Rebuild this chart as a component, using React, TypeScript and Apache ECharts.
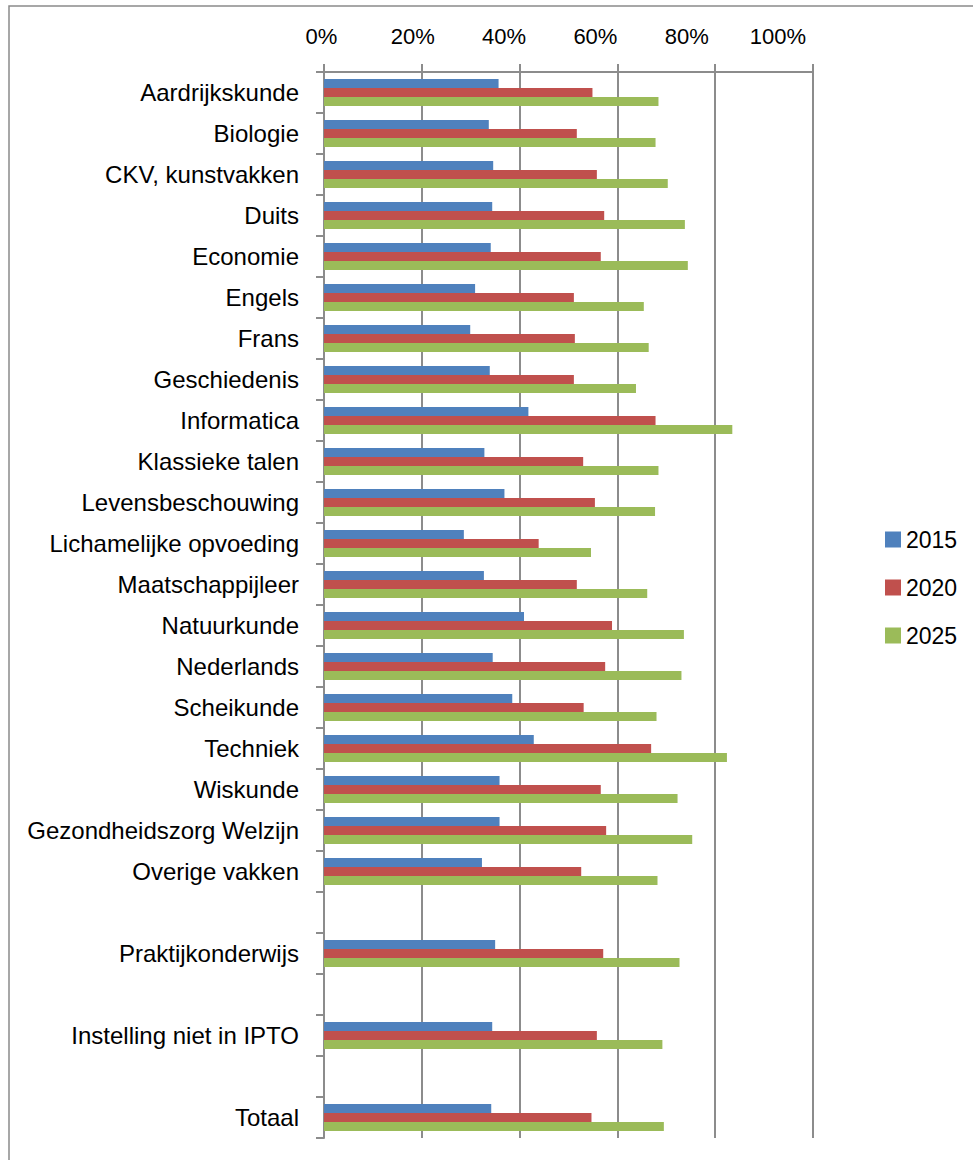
import React, { useEffect, useRef } from "react";
import * as echarts from "echarts";

const categories = [
  "Aardrijkskunde",
  "Biologie",
  "CKV, kunstvakken",
  "Duits",
  "Economie",
  "Engels",
  "Frans",
  "Geschiedenis",
  "Informatica",
  "Klassieke talen",
  "Levensbeschouwing",
  "Lichamelijke opvoeding",
  "Maatschappijleer",
  "Natuurkunde",
  "Nederlands",
  "Scheikunde",
  "Techniek",
  "Wiskunde",
  "Gezondheidszorg Welzijn",
  "Overige vakken",
  " ",
  "Praktijkonderwijs",
  "  ",
  "Instelling niet in IPTO",
  "   ",
  "Totaal",
];

const seriesNames = ["2015", "2020", "2025"];

const values2015 = [35.7, 33.7, 34.6, 34.4, 34.1, 30.9, 29.9, 33.9, 41.8, 32.8, 36.9, 28.6, 32.7, 40.9, 34.5, 38.5, 42.9, 35.9, 35.9, 32.3, null, 35.0, null, 34.4, null, 34.2];
const values2020 = [54.9, 51.7, 55.8, 57.3, 56.6, 51.1, 51.3, 51.1, 67.8, 53.0, 55.4, 43.9, 51.7, 58.9, 57.5, 53.1, 66.9, 56.6, 57.7, 52.6, null, 57.1, null, 55.8, null, 54.7];
const values2025 = [68.4, 67.8, 70.3, 73.8, 74.4, 65.4, 66.4, 63.8, 83.5, 68.4, 67.7, 54.6, 66.1, 73.6, 73.1, 68.0, 82.4, 72.3, 75.3, 68.2, null, 72.7, null, 69.2, null, 69.5];

const xMin = 0;
const xMax = 100;
const xInterval = 20;

const colors = ["#4F81BD", "#C0504D", "#9BBB59"];
const FONT = "'Liberation Sans', Arial, sans-serif";
const GRAY = "#8c8c8c";

export default function App() {
  const ref = useRef<HTMLDivElement>(null);

  useEffect(() => {
    if (!ref.current) return;
    const chart = echarts.init(ref.current, undefined, { renderer: "svg" });
    const allValues = [values2015, values2020, values2025];
    chart.setOption({
      animation: false,
      backgroundColor: "#ffffff",
      textStyle: { fontFamily: FONT, color: "#000" },
      graphic: [
        {
          type: "rect",
          silent: true,
          shape: { x: 9, y: 6, width: 1200, height: 1400 },
          style: { fill: "none", stroke: "#8a8a8a", lineWidth: 1.5 },
        },
      ],
      legend: {
        orient: "vertical",
        left: 880,
        top: 523,
        itemWidth: 16,
        itemHeight: 16,
        itemGap: 25,
        itemTextGap: 5,
        icon: "rect",
        textStyle: { fontFamily: FONT, fontSize: 23, color: "#000" },
        data: seriesNames,
      },
      grid: [
        { left: 324, top: 72, width: 489, height: 1066 },
        { left: 321.5, top: 72, width: 456.5, height: 1066 },
      ],
      xAxis: [
        {
          type: "value",
          gridIndex: 0,
          position: "top",
          min: xMin,
          max: xMax,
          interval: xInterval,
          axisLine: { show: true, lineStyle: { color: GRAY, width: 2 } },
          axisTick: { show: true, inside: false, length: 8, lineStyle: { color: GRAY, width: 2 } },
          axisLabel: { show: false },
          splitLine: { show: true, lineStyle: { color: GRAY, width: 2 } },
        },
        {
          type: "value",
          gridIndex: 1,
          position: "top",
          min: xMin,
          max: xMax,
          interval: xInterval,
          axisLine: { show: false },
          axisTick: { show: false },
          splitLine: { show: false },
          axisLabel: {
            show: true,
            margin: 25,
            fontFamily: FONT,
            fontSize: 22,
            color: "#000",
            formatter: "{value}%",
          },
        },
      ],
      yAxis: [
        {
          type: "category",
          gridIndex: 0,
          inverse: true,
          data: categories,
          axisLine: { show: true, lineStyle: { color: GRAY, width: 2 } },
          axisTick: {
            show: true,
            inside: false,
            length: 8,
            alignWithLabel: false,
            interval: 0,
            lineStyle: { color: GRAY, width: 2 },
          },
          axisLabel: {
            interval: 0,
            margin: 25,
            fontFamily: FONT,
            fontSize: 24,
            color: "#000",
          },
          splitLine: { show: false },
        },
        {
          type: "category",
          gridIndex: 1,
          show: false,
          data: categories,
        },
      ],
      series: seriesNames.map((name, i) => ({
        name,
        type: "bar",
        xAxisIndex: 0,
        yAxisIndex: 0,
        data: allValues[i],
        barWidth: 9,
        barGap: "0%",
        itemStyle: { color: colors[i] },
      })),
    });
    return () => chart.dispose();
  }, []);

  return (
    <div
      ref={ref}
      style={{
        position: "fixed",
        left: 0,
        top: 0,
        width: 973,
        height: 1160,
        background: "#fff",
        overflow: "hidden",
      }}
    />
  );
}
